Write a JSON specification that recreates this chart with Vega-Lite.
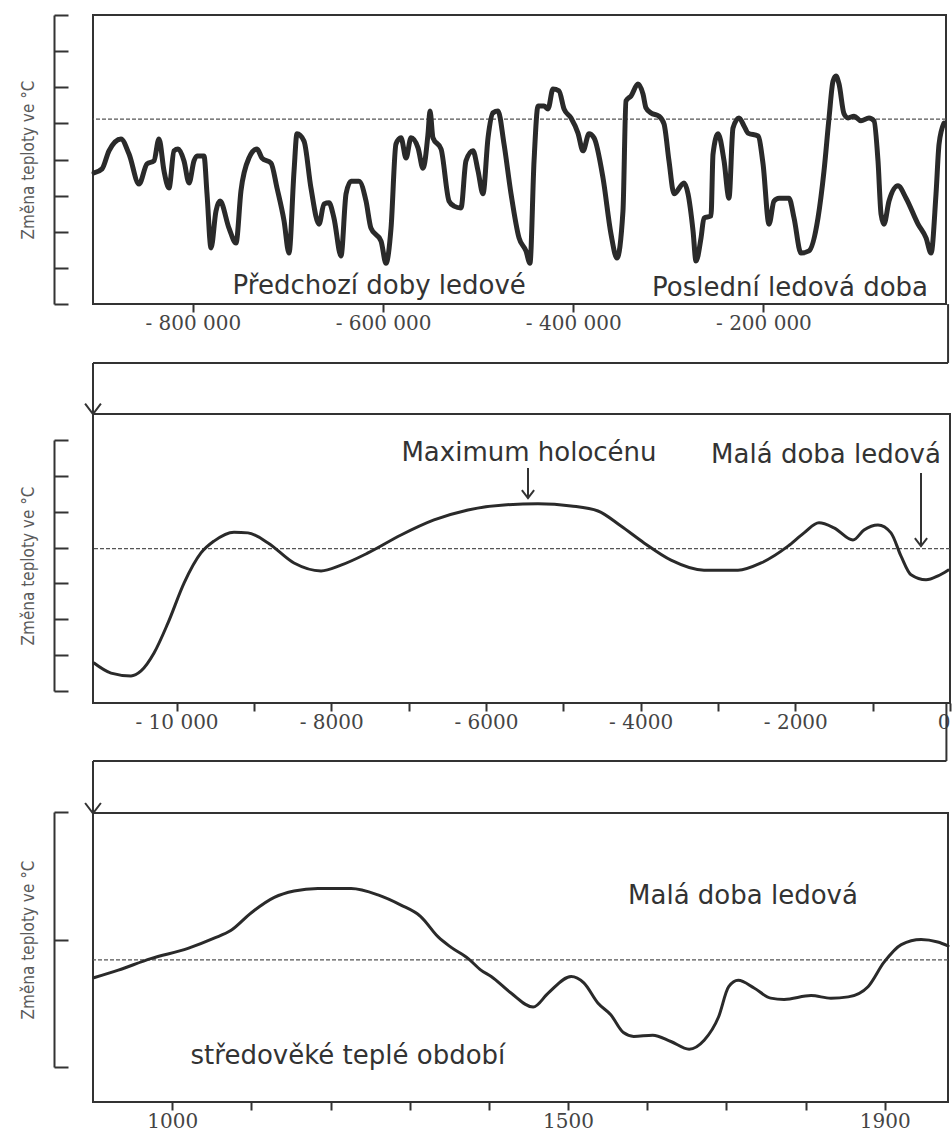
{
  "$schema": "https://vega.github.io/schema/vega-lite/v6.json",
  "background": "white",
  "padding": {"left": 18, "top": 13, "right": 0, "bottom": 0},
  "spacing": 110,
  "bounds": "flush",
  "config": {
    "view": {"stroke": "#333", "strokeWidth": 2, "fill": null},
    "axisY": {"domainColor": "#333", "domainWidth": 2, "tickColor": "#333", "tickWidth": 2, "tickSize": -14, "labels": false, "grid": false, "offset": 39, "titleFont": "DejaVu Sans Condensed", "titleFontSize": 17, "titleFontWeight": "normal", "titleColor": "#5a5a5a", "titleX": -26, "titleBaseline": "middle"},
    "axisX": {"domain": false, "grid": false, "tickColor": "#333", "tickWidth": 2, "tickSize": 8, "labelFont": "DejaVu Serif", "labelFontSize": 20, "labelColor": "#444", "labelPadding": 1, "labelFlush": false, "labelOverlap": false},
    "text": {"font": "DejaVu Sans", "fontSize": 26, "color": "#333"}
  },
  "datasets": {
    "p1": [
      {"t":-903.9,"v":3.63},{"t":-895.5,"v":3.74},{"t":-888.2,"v":4.24},{"t":-875.6,"v":4.57},{"t":-867.1,"v":4.15},{"t":-856.6,"v":3.32},{"t":-848.2,"v":3.88},{"t":-840.9,"v":3.96},{"t":-835.6,"v":4.57},{"t":-830.3,"v":3.68},{"t":-825.1,"v":3.21},{"t":-819.8,"v":4.24},{"t":-815.6,"v":4.29},{"t":-809.3,"v":3.96},{"t":-804.0,"v":3.35},{"t":-798.8,"v":3.96},{"t":-795.6,"v":4.10},{"t":-788.3,"v":4.10},{"t":-785.1,"v":3.05},{"t":-780.9,"v":1.55},{"t":-775.7,"v":2.57},{"t":-771.4,"v":2.85},{"t":-762.0,"v":2.10},{"t":-754.6,"v":1.69},{"t":-749.4,"v":3.13},{"t":-741.0,"v":4.04},{"t":-732.5,"v":4.29},{"t":-727.3,"v":4.04},{"t":-717.8,"v":3.90},{"t":-711.5,"v":3.21},{"t":-704.1,"v":2.30},{"t":-698.9,"v":1.41},{"t":-693.6,"v":3.68},{"t":-690.5,"v":4.71},{"t":-683.1,"v":4.51},{"t":-675.8,"v":3.21},{"t":-667.3,"v":2.21},{"t":-662.1,"v":2.77},{"t":-656.8,"v":2.80},{"t":-651.6,"v":2.38},{"t":-644.2,"v":1.33},{"t":-638.9,"v":3.05},{"t":-633.7,"v":3.40},{"t":-625.3,"v":3.40},{"t":-617.9,"v":2.85},{"t":-612.7,"v":2.10},{"t":-602.1,"v":1.74},{"t":-596.9,"v":1.13},{"t":-591.6,"v":2.10},{"t":-586.4,"v":4.43},{"t":-581.1,"v":4.60},{"t":-575.8,"v":4.04},{"t":-570.6,"v":4.60},{"t":-563.2,"v":4.32},{"t":-558.0,"v":3.76},{"t":-552.7,"v":4.71},{"t":-550.6,"v":5.34},{"t":-547.5,"v":4.60},{"t":-539.0,"v":4.29},{"t":-530.6,"v":2.85},{"t":-525.4,"v":2.71},{"t":-518.0,"v":2.66},{"t":-512.8,"v":3.96},{"t":-505.4,"v":4.24},{"t":-500.1,"v":3.68},{"t":-494.9,"v":3.05},{"t":-489.6,"v":4.60},{"t":-484.4,"v":5.29},{"t":-479.1,"v":5.34},{"t":-472.8,"v":4.43},{"t":-465.4,"v":3.05},{"t":-457.0,"v":1.83},{"t":-449.7,"v":1.47},{"t":-445.5,"v":1.13},{"t":-441.2,"v":3.96},{"t":-437.0,"v":5.48},{"t":-430.7,"v":5.48},{"t":-426.5,"v":5.40},{"t":-421.3,"v":5.95},{"t":-415.0,"v":5.90},{"t":-409.7,"v":5.40},{"t":-402.3,"v":5.15},{"t":-395.0,"v":4.73},{"t":-389.7,"v":4.24},{"t":-383.4,"v":4.71},{"t":-378.1,"v":4.60},{"t":-368.7,"v":3.49},{"t":-360.3,"v":1.94},{"t":-354.0,"v":1.27},{"t":-347.7,"v":2.57},{"t":-344.5,"v":5.62},{"t":-339.2,"v":5.76},{"t":-331.9,"v":6.09},{"t":-326.6,"v":5.81},{"t":-323.5,"v":5.43},{"t":-318.2,"v":5.29},{"t":-309.8,"v":5.20},{"t":-304.5,"v":4.98},{"t":-299.3,"v":3.96},{"t":-294.0,"v":3.05},{"t":-283.5,"v":3.35},{"t":-279.3,"v":3.05},{"t":-274.0,"v":2.02},{"t":-270.9,"v":1.19},{"t":-265.6,"v":1.83},{"t":-262.5,"v":2.38},{"t":-255.1,"v":2.44},{"t":-253.0,"v":4.15},{"t":-247.7,"v":4.71},{"t":-241.4,"v":3.96},{"t":-236.2,"v":2.93},{"t":-232.0,"v":4.87},{"t":-225.7,"v":5.15},{"t":-220.4,"v":4.93},{"t":-216.2,"v":4.73},{"t":-205.7,"v":4.65},{"t":-200.4,"v":3.88},{"t":-194.1,"v":2.21},{"t":-188.9,"v":2.85},{"t":-183.6,"v":2.93},{"t":-173.1,"v":2.93},{"t":-167.8,"v":2.38},{"t":-160.5,"v":1.41},{"t":-152.1,"v":1.47},{"t":-142.6,"v":2.38},{"t":-136.3,"v":3.68},{"t":-131.0,"v":5.15},{"t":-126.8,"v":6.17},{"t":-123.7,"v":6.31},{"t":-120.5,"v":6.09},{"t":-115.2,"v":5.26},{"t":-111.0,"v":5.15},{"t":-104.7,"v":5.20},{"t":-97.4,"v":5.07},{"t":-89.0,"v":5.15},{"t":-83.7,"v":5.07},{"t":-79.5,"v":3.96},{"t":-76.3,"v":2.49},{"t":-73.2,"v":2.21},{"t":-67.9,"v":2.85},{"t":-58.5,"v":3.27},{"t":-50.0,"v":2.93},{"t":-37.4,"v":2.21},{"t":-29.0,"v":1.83},{"t":-23.7,"v":1.41},{"t":-18.5,"v":3.05},{"t":-15.3,"v":4.43},{"t":-10.1,"v":5.01}
    ],
    "ref1": [{"v": 5.12}],
    "txt1": [
      {"t": -604, "v": 0.28, "label": "Předchozí doby ledové"},
      {"t": -172, "v": 0.22, "label": "Poslední ledová doba"}
    ],
    "p2": [
      {"t":-11067,"v":0.78},{"t":-10847,"v":0.50},{"t":-10589,"v":0.42},{"t":-10459,"v":0.56},{"t":-10291,"v":1.06},{"t":-10110,"v":1.90},{"t":-9903,"v":3.01},{"t":-9684,"v":3.85},{"t":-9516,"v":4.18},{"t":-9257,"v":4.43},{"t":-9076,"v":4.41},{"t":-8817,"v":4.13},{"t":-8481,"v":3.57},{"t":-8132,"v":3.35},{"t":-7874,"v":3.51},{"t":-7525,"v":3.85},{"t":-7098,"v":4.35},{"t":-6671,"v":4.77},{"t":-6232,"v":5.05},{"t":-5766,"v":5.19},{"t":-5327,"v":5.22},{"t":-4900,"v":5.16},{"t":-4551,"v":5.02},{"t":-4254,"v":4.60},{"t":-3956,"v":4.13},{"t":-3607,"v":3.65},{"t":-3180,"v":3.37},{"t":-2741,"v":3.37},{"t":-2443,"v":3.57},{"t":-2094,"v":4.04},{"t":-1887,"v":4.41},{"t":-1694,"v":4.69},{"t":-1500,"v":4.55},{"t":-1254,"v":4.21},{"t":-1112,"v":4.49},{"t":-931,"v":4.63},{"t":-763,"v":4.41},{"t":-633,"v":3.76},{"t":-504,"v":3.24},{"t":-310,"v":3.10},{"t":-155,"v":3.21},{"t":-26,"v":3.37}
    ],
    "ref2": [{"v": 3.97}],
    "txt2": [
      {"t": -5443, "v": 6.41, "label": "Maximum holocénu"},
      {"t": -1603, "v": 6.36, "label": "Malá doba ledová"}
    ],
    "arr2": [
      {"t": -5456, "t2": -5456, "v": 6.22, "v2": 5.38},
      {"t": -375, "t2": -375, "v": 6.08, "v2": 4.04}
    ],
    "link2": [
      {"t": -11080, "t2": -25, "v": 9.15, "v2": 9.15},
      {"t": -25, "t2": -25, "v": 9.15, "v2": 10.79},
      {"t": -11080, "t2": -11080, "v": 9.15, "v2": 7.725}
    ],
    "tip2": [{"t": -11080, "v": 7.725}],
    "p3": [
      {"t":901,"v":0.70},{"t":932,"v":0.76},{"t":973,"v":0.85},{"t":1020,"v":0.93},{"t":1053,"v":1.01},{"t":1074,"v":1.07},{"t":1100,"v":1.21},{"t":1129,"v":1.33},{"t":1154,"v":1.38},{"t":1184,"v":1.40},{"t":1226,"v":1.40},{"t":1260,"v":1.35},{"t":1289,"v":1.27},{"t":1314,"v":1.18},{"t":1336,"v":1.02},{"t":1352,"v":0.94},{"t":1374,"v":0.85},{"t":1390,"v":0.76},{"t":1403,"v":0.71},{"t":1428,"v":0.58},{"t":1456,"v":0.47},{"t":1475,"v":0.58},{"t":1504,"v":0.71},{"t":1520,"v":0.66},{"t":1538,"v":0.50},{"t":1554,"v":0.41},{"t":1570,"v":0.27},{"t":1583,"v":0.24},{"t":1607,"v":0.25},{"t":1630,"v":0.20},{"t":1653,"v":0.14},{"t":1672,"v":0.21},{"t":1690,"v":0.39},{"t":1703,"v":0.63},{"t":1715,"v":0.68},{"t":1735,"v":0.62},{"t":1756,"v":0.54},{"t":1773,"v":0.53},{"t":1807,"v":0.56},{"t":1832,"v":0.54},{"t":1854,"v":0.55},{"t":1879,"v":0.63},{"t":1899,"v":0.82},{"t":1921,"v":0.96},{"t":1946,"v":1.00},{"t":1967,"v":0.98},{"t":1980,"v":0.95}
    ],
    "ref3": [{"v": 0.84}],
    "txt3": [
      {"t": 1721, "v": 1.28, "label": "Malá doba ledová"},
      {"t": 1222, "v": 0.02, "label": "středověké teplé období"}
    ],
    "link3": [
      {"t": 900, "t2": 1978, "v": 2.4, "v2": 2.4},
      {"t": 1978, "t2": 1978, "v": 2.4, "v2": 2.855},
      {"t": 900, "t2": 900, "v": 2.4, "v2": 1.99}
    ],
    "tip3": [{"t": 900, "v": 1.99}]
  },
  "vconcat": [
    {
      "width": 853,
      "height": 289,
      "layer": [
        {
          "data": {"name": "ref1"},
          "mark": {"type": "rule", "strokeDash": [4, 2], "strokeWidth": 1.2, "color": "#555"},
          "encoding": {
            "y": {"field": "v", "type": "quantitative", "scale": {"domain": [0, 8], "range": [289, 0], "nice": false, "zero": false}, "axis": {"values": [0,1,2,3,4,5,6,7,8], "title": "Změna teploty ve °C"}}
          }
        },
        {
          "data": {"name": "p1"},
          "mark": {"type": "line", "interpolate": "monotone", "strokeWidth": 5, "color": "#2a2a2a", "strokeCap": "round", "strokeJoin": "round"},
          "encoding": {
            "x": {"field": "t", "type": "quantitative", "scale": {"domain": [-905, -8], "nice": false, "zero": false}, "axis": {"values": [-800, -600, -400, -200], "title": null, "labelExpr": "'- ' + format(-datum.value, 'd') + ' 000'"}},
            "y": {"field": "v", "type": "quantitative", "scale": {"domain": [0, 8], "range": [289, 0], "nice": false, "zero": false}, "axis": {"values": [0,1,2,3,4,5,6,7,8], "title": "Změna teploty ve °C"}}
          }
        },
        {
          "data": {"name": "txt1"},
          "mark": {"type": "text", "align": "center", "baseline": "alphabetic"},
          "encoding": {
            "x": {"field": "t", "type": "quantitative", "scale": {"domain": [-905, -8], "nice": false, "zero": false}, "axis": {"values": [-800, -600, -400, -200], "title": null, "labelExpr": "'- ' + format(-datum.value, 'd') + ' 000'"}},
            "y": {"field": "v", "type": "quantitative", "scale": {"domain": [0, 8], "range": [289, 0], "nice": false, "zero": false}, "axis": {"values": [0,1,2,3,4,5,6,7,8], "title": "Změna teploty ve °C"}},
            "text": {"field": "label"}
          }
        }
      ]
    },
    {
      "width": 857,
      "height": 289,
      "layer": [
        {
          "data": {"name": "ref2"},
          "mark": {"type": "rule", "strokeDash": [4, 2], "strokeWidth": 1.2, "color": "#555"},
          "encoding": {
            "y": {"field": "v", "type": "quantitative", "scale": {"domain": [0, 7], "range": [277, 26], "nice": false, "zero": false}, "axis": {"values": [0,1,2,3,4,5,6,7], "title": "Změna teploty ve °C"}}
          }
        },
        {
          "data": {"name": "p2"},
          "mark": {"type": "line", "interpolate": "monotone", "strokeWidth": 3, "color": "#2a2a2a", "strokeCap": "round"},
          "encoding": {
            "x": {"field": "t", "type": "quantitative", "scale": {"domain": [-11080, 0], "nice": false, "zero": false}, "axis": {"values": [-10000,-9000,-8000,-7000,-6000,-5000,-4000,-3000,-2000,-1000,0], "title": null, "labelFlush": true, "labelExpr": "datum.value % 2000 != 0 ? '' : datum.value == 0 ? '0' : datum.value <= -10000 ? '- 10 000' : '- ' + format(-datum.value, 'd')"}},
            "y": {"field": "v", "type": "quantitative", "scale": {"domain": [0, 7], "range": [277, 26], "nice": false, "zero": false}, "axis": {"values": [0,1,2,3,4,5,6,7], "title": "Změna teploty ve °C"}}
          }
        },
        {
          "data": {"name": "txt2"},
          "mark": {"type": "text", "align": "center", "baseline": "alphabetic"},
          "encoding": {
            "x": {"field": "t", "type": "quantitative", "scale": {"domain": [-11080, 0], "nice": false, "zero": false}},
            "y": {"field": "v", "type": "quantitative", "scale": {"domain": [0, 7], "range": [277, 26], "nice": false, "zero": false}},
            "text": {"field": "label"}
          }
        },
        {
          "data": {"name": "arr2"},
          "mark": {"type": "rule", "strokeWidth": 2, "color": "#333"},
          "encoding": {
            "x": {"field": "t", "type": "quantitative", "scale": {"domain": [-11080, 0], "nice": false, "zero": false}},
            "x2": {"field": "t2"},
            "y": {"field": "v", "type": "quantitative", "scale": {"domain": [0, 7], "range": [277, 26], "nice": false, "zero": false}},
            "y2": {"field": "v2"}
          }
        },
        {
          "data": {"name": "arr2"},
          "mark": {"type": "point", "shape": "M-1,-1.3L0,0L1,-1.3", "filled": false, "size": 150, "strokeWidth": 2, "color": "#333", "opacity": 1},
          "encoding": {
            "x": {"field": "t", "type": "quantitative", "scale": {"domain": [-11080, 0], "nice": false, "zero": false}},
            "y": {"field": "v2", "type": "quantitative", "scale": {"domain": [0, 7], "range": [277, 26], "nice": false, "zero": false}}
          }
        },
        {
          "data": {"name": "link2"},
          "mark": {"type": "rule", "strokeWidth": 2, "color": "#333"},
          "encoding": {
            "x": {"field": "t", "type": "quantitative", "scale": {"domain": [-11080, 0], "nice": false, "zero": false}},
            "x2": {"field": "t2"},
            "y": {"field": "v", "type": "quantitative", "scale": {"domain": [0, 7], "range": [277, 26], "nice": false, "zero": false}},
            "y2": {"field": "v2"}
          }
        },
        {
          "data": {"name": "tip2"},
          "mark": {"type": "point", "shape": "M-1,-1.3L0,0L1,-1.3", "filled": false, "size": 250, "strokeWidth": 2, "color": "#333", "opacity": 1},
          "encoding": {
            "x": {"field": "t", "type": "quantitative", "scale": {"domain": [-11080, 0], "nice": false, "zero": false}},
            "y": {"field": "v", "type": "quantitative", "scale": {"domain": [0, 7], "range": [277, 26], "nice": false, "zero": false}}
          }
        }
      ]
    },
    {
      "width": 855,
      "height": 289,
      "layer": [
        {
          "data": {"name": "ref3"},
          "mark": {"type": "rule", "strokeDash": [4, 2], "strokeWidth": 1.2, "color": "#555"},
          "encoding": {
            "y": {"field": "v", "type": "quantitative", "scale": {"domain": [0, 2], "range": [254, -1], "nice": false, "zero": false}, "axis": {"values": [0, 1, 2], "title": "Změna teploty ve °C"}}
          }
        },
        {
          "data": {"name": "p3"},
          "mark": {"type": "line", "interpolate": "monotone", "strokeWidth": 3, "color": "#2a2a2a", "strokeCap": "round"},
          "encoding": {
            "x": {"field": "t", "type": "quantitative", "scale": {"domain": [900, 1980], "nice": false, "zero": false}, "axis": {"values": [1000,1100,1200,1300,1400,1500,1600,1700,1800,1900], "title": null, "labelExpr": "indexof([1000, 1500, 1900], datum.value) >= 0 ? format(datum.value, 'd') : ''"}},
            "y": {"field": "v", "type": "quantitative", "scale": {"domain": [0, 2], "range": [254, -1], "nice": false, "zero": false}, "axis": {"values": [0, 1, 2], "title": "Změna teploty ve °C"}}
          }
        },
        {
          "data": {"name": "txt3"},
          "mark": {"type": "text", "align": "center", "baseline": "alphabetic"},
          "encoding": {
            "x": {"field": "t", "type": "quantitative", "scale": {"domain": [900, 1980], "nice": false, "zero": false}},
            "y": {"field": "v", "type": "quantitative", "scale": {"domain": [0, 2], "range": [254, -1], "nice": false, "zero": false}},
            "text": {"field": "label"}
          }
        },
        {
          "data": {"name": "link3"},
          "mark": {"type": "rule", "strokeWidth": 2, "color": "#333"},
          "encoding": {
            "x": {"field": "t", "type": "quantitative", "scale": {"domain": [900, 1980], "nice": false, "zero": false}},
            "x2": {"field": "t2"},
            "y": {"field": "v", "type": "quantitative", "scale": {"domain": [0, 2], "range": [254, -1], "nice": false, "zero": false}},
            "y2": {"field": "v2"}
          }
        },
        {
          "data": {"name": "tip3"},
          "mark": {"type": "point", "shape": "M-1,-1.3L0,0L1,-1.3", "filled": false, "size": 250, "strokeWidth": 2, "color": "#333", "opacity": 1},
          "encoding": {
            "x": {"field": "t", "type": "quantitative", "scale": {"domain": [900, 1980], "nice": false, "zero": false}},
            "y": {"field": "v", "type": "quantitative", "scale": {"domain": [0, 2], "range": [254, -1], "nice": false, "zero": false}}
          }
        }
      ]
    }
  ]
}
